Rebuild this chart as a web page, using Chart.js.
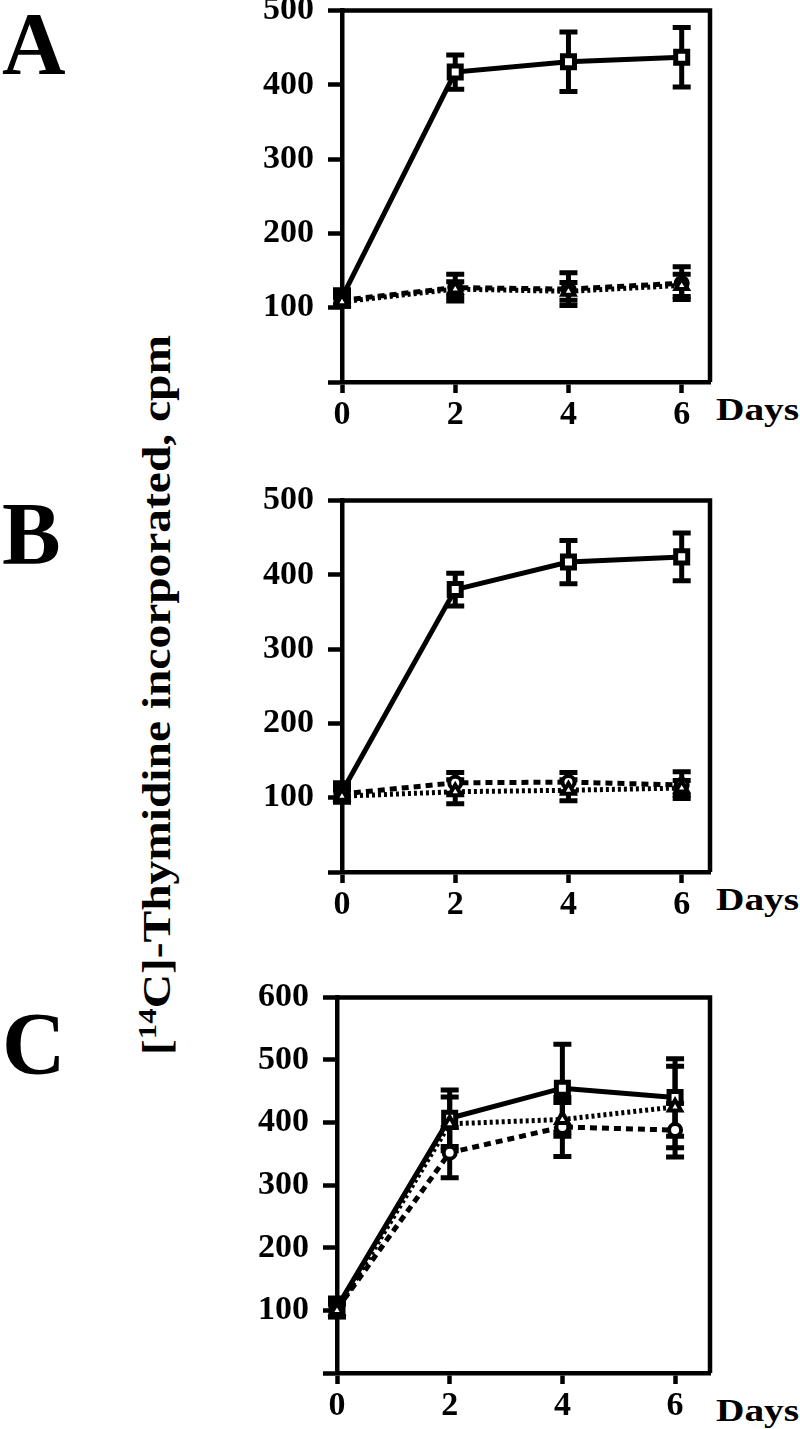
<!DOCTYPE html>
<html>
<head>
<meta charset="utf-8">
<script src="https://cdn.jsdelivr.net/npm/chart.js@4.4.1/dist/chart.umd.min.js"></script>
<style>
    body { margin: 0; background: #fff; }
    #page { position: relative; width: 800px; height: 1429px; overflow: hidden; font-family: 'Liberation Serif', 'Times New Roman', serif; font-weight: bold; color: #000; }
    canvas { position: absolute; }
    .letter { position: absolute; left: 2px; font-size: 88px; line-height: 1; }
    .days { position: absolute; left: 716px; font-size: 31px; line-height: 1; transform-origin: left center; transform: scaleX(1.27); }
    #ytitle { position: absolute; font-size: 40px; line-height: 1; white-space: nowrap; transform-origin: center center; }
    #ytitle sup { font-size: 26px; vertical-align: 14px; }
</style>
</head>
<body>
<div id="page">
    <div class="letter" style="top:0px">A</div>
    <div class="letter" style="top:490px">B</div>
    <div class="letter" style="top:1000px">C</div>
    <div id="ytitle">[<sup>14</sup>C]-Thymidine incorporated, cpm</div>
    <div class="days" style="top:394px">Days</div>
    <div class="days" style="top:884px">Days</div>
    <div class="days" style="top:1395px">Days</div>
    <canvas id="chartA"></canvas>
    <canvas id="chartB"></canvas>
    <canvas id="chartC"></canvas>
</div>
<script>
const days = [0, 2, 4, 6];

// panel A
const aSquare = [114, 417, 431, 437],
    aSquareErr = [10, 23, 40, 40],
    aCircle = [110, 127, 125, 133],
    aCircleErr = [8, 18, 22, 22],
    aTriangle = [108, 125, 122, 130],
    aTriangleErr = [6, 10, 12, 15];

// panel B
const bSquare = [108, 380, 417, 424],
    bSquareErr = [12, 22, 29, 32],
    bCircle = [105, 120, 121, 117],
    bCircleErr = [10, 14, 13, 18],
    bTriangle = [102, 108, 110, 113],
    bTriangleErr = [8, 16, 14, 10];

// panel C
const cSquare = [105, 407, 455, 440],
    cSquareErr = [15, 45, 70, 62],
    cCircle = [102, 352, 393, 388],
    cCircleErr = [12, 40, 47, 43],
    cTriangle = [100, 398, 405, 425],
    cTriangleErr = [10, 43, 27, 65];

const ticksAB = [100, 200, 300, 400, 500],
    ticksC = [100, 200, 300, 400, 500, 600];

const tickFont = { family: 'Liberation Serif', size: 34, weight: 'bold' };

// error bars drawn under the markers
const errorBars = {
    id: 'errorBars',
    beforeDatasetsDraw(chart) {
        const ctx = chart.ctx,
            xs = chart.scales.x,
            ys = chart.scales.y;
        ctx.save();
        ctx.strokeStyle = '#000';
        ctx.lineCap = 'butt';
        chart.data.datasets.forEach(ds => {
            ds.data.forEach((p, i) => {
                const px = xs.getPixelForValue(p.x),
                    top = ys.getPixelForValue(p.y + ds.err[i]),
                    bot = ys.getPixelForValue(p.y - ds.err[i]);
                ctx.lineWidth = 5;
                ctx.beginPath();
                ctx.moveTo(px, top);
                ctx.lineTo(px, bot);
                ctx.stroke();
                ctx.beginPath();
                ctx.moveTo(px - 9, top);
                ctx.lineTo(px + 9, top);
                ctx.moveTo(px - 9, bot);
                ctx.lineTo(px + 9, bot);
                ctx.stroke();
            });
        });
        // top and right sides of the frame
        const a = chart.chartArea;
        ctx.lineWidth = 4.5;
        ctx.beginPath();
        ctx.moveTo(a.left, a.top);
        ctx.lineTo(a.right, a.top);
        ctx.lineTo(a.right, a.bottom);
        ctx.stroke();
        ctx.restore();
    }
};

function series(values, err, style) {
    const ds = {
        data: days.map((d, i) => ({ x: d, y: values[i] })),
        err: err,
        borderColor: '#000',
        borderWidth: 5,
        pointBackgroundColor: '#fff',
        pointBorderColor: '#000',
        pointBorderWidth: 4,
        pointRadius: 7,
        clip: false,
        tension: 0
    };
    if (style == 'square') {
        ds.pointStyle = 'rect';
        ds.pointRadius = 8.5;
        ds.pointBorderWidth = 5;
    }
    if (style == 'circle') {
        ds.pointStyle = 'circle';
        ds.pointRadius = 6;
        ds.borderDash = [7, 5];
    }
    if (style == 'triangle') {
        ds.pointStyle = 'triangle';
        ds.borderDash = [3, 3];
    }
    return ds;
}

function buildChart(canvas, box, yMax, xMax, yTicks, sets, left, top) {
    canvas.width = 540;
    canvas.height = box.bottom - top + 55;
    canvas.style.left = left + 'px';
    canvas.style.top = top + 'px';

    return new Chart(canvas.getContext('2d'), {
        type: 'line',
        data: { datasets: sets },
        options: {
            responsive: false,
            animation: false,
            events: [],
            layout: { padding: { top: 20, right: 730 - box.right, left: 0, bottom: 0 } },
            plugins: { legend: { display: false }, tooltip: { enabled: false } },
            scales: {
                x: {
                    type: 'linear',
                    min: 0,
                    max: xMax,
                    afterBuildTicks: s => { s.ticks = days.map(v => ({ value: v })); },
                    afterFit: s => { s.height = 55; },
                    grid: { drawOnChartArea: false, color: '#000', tickLength: 11, tickWidth: 4.5 },
                    border: { display: true, color: '#000', width: 4.5 },
                    ticks: { color: '#000', font: tickFont, padding: 2 }
                },
                y: {
                    min: 0,
                    max: yMax,
                    afterBuildTicks: s => { s.ticks = [0].concat(yTicks).map(v => ({ value: v })); },
                    afterFit: s => { s.width = box.left - left; },
                    grid: { drawOnChartArea: false, color: '#000', tickLength: 14, tickWidth: 4.5 },
                    border: { display: true, color: '#000', width: 4.5 },
                    ticks: {
                        color: '#000',
                        font: tickFont,
                        padding: 14,
                        callback: v => v === 0 ? '' : v
                    }
                }
            }
        },
        plugins: [errorBars]
    });
}

function makePanel(id, box, yMax, xMax, yTicks, sets) {
    const canvas = document.getElementById(id);
    const left = 190;
    let top = box.top - 20;
    let chart = buildChart(canvas, box, yMax, xMax, yTicks, sets, left, top);

    // the layout can push the plot area down; rebuild with a taller canvas so the frame lands where it should
    const extra = Math.round(chart.chartArea.top - (box.top - top));
    if (extra !== 0) {
        chart.destroy();
        top -= extra;
        chart = buildChart(canvas, box, yMax, xMax, yTicks, sets, left, top);
    }
    return chart;
}

makePanel('chartA', { left: 342, top: 10, right: 710, bottom: 382 }, 500, 6.5, ticksAB, [
    series(aTriangle, aTriangleErr, 'triangle'),
    series(aCircle, aCircleErr, 'circle'),
    series(aSquare, aSquareErr, 'square')
]);

makePanel('chartB', { left: 342, top: 500, right: 710, bottom: 872 }, 500, 6.5, ticksAB, [
    series(bTriangle, bTriangleErr, 'triangle'),
    series(bCircle, bCircleErr, 'circle'),
    series(bSquare, bSquareErr, 'square')
]);

makePanel('chartC', { left: 337, top: 997, right: 710, bottom: 1373 }, 600, 6.62, ticksC, [
    series(cTriangle, cTriangleErr, 'triangle'),
    series(cCircle, cCircleErr, 'circle'),
    series(cSquare, cSquareErr, 'square')
]);

// vertical axis title, stretched to the length it has in the figure
const title = document.getElementById('ytitle');
const w = title.offsetWidth, h = title.offsetHeight;
title.style.left = (155 - w / 2) + 'px';
title.style.top = (695 - h / 2) + 'px';
title.style.transform = 'rotate(-90deg) scaleX(' + (720 / w).toFixed(3) + ')';
</script>
</body>
</html>
